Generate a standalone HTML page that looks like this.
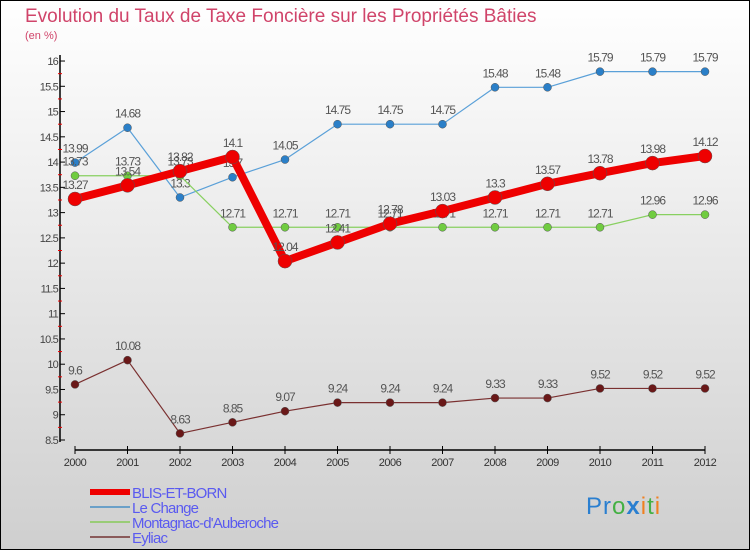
<!DOCTYPE html>
<html><head><meta charset="utf-8"><style>
body{margin:0}
#c{width:750px;height:550px;position:relative;overflow:hidden;font-family:"Liberation Sans",sans-serif}
</style></head><body>
<div id="c">
<svg id="s" width="750" height="550" xmlns="http://www.w3.org/2000/svg">
<defs><linearGradient id="bg" x1="0" y1="0" x2="0" y2="1"><stop offset="0" stop-color="#ffffff"/><stop offset="1" stop-color="#cfcfcf"/></linearGradient></defs>
<rect x="0.5" y="0.5" width="749" height="549" fill="url(#bg)" stroke="#000"/>
<text x="25" y="22" font-size="19" fill="#d0446a">Evolution du Taux de Taxe Foncière sur les Propriétés Bâties</text>
<text x="25" y="39" font-size="11" fill="#d0446a">(en %)</text>
<g id="g"></g>
<text x="586" y="514" font-size="24" letter-spacing="1"><tspan fill="#2a7fd0">Pr</tspan><tspan fill="#44b044">o</tspan><tspan fill="#2a7fd0" font-weight="bold">x</tspan><tspan fill="#f08020">i</tspan><tspan fill="#44b044">t</tspan><tspan fill="#f08020">i</tspan></text>
</svg></div>
<script>
const years=[2000,2001,2002,2003,2004,2005,2006,2007,2008,2009,2010,2011,2012];
const blis=[13.27,13.54,13.82,14.1,12.04,12.41,12.78,13.03,13.3,13.57,13.78,13.98,14.12];
const change=[13.99,14.68,13.3,13.7,14.05,14.75,14.75,14.75,15.48,15.48,15.79,15.79,15.79];
const montagnac=[13.73,13.73,13.73,12.71,12.71,12.71,12.71,12.71,12.71,12.71,12.71,12.96,12.96];
const eyliac=[9.6,10.08,8.63,8.85,9.07,9.24,9.24,9.24,9.33,9.33,9.52,9.52,9.52];
const yTicks=[8.5,9,9.5,10,10.5,11,11.5,12,12.5,13,13.5,14,14.5,15,15.5,16];
const NS='http://www.w3.org/2000/svg';
const g=document.getElementById('g');
const X=i=>75+i*52.5;
const Y=v=>440-(v-8.5)*50.53;
function el(t,a,p){const e=document.createElementNS(NS,t);for(const k in a)e.setAttribute(k,a[k]);(p||g).appendChild(e);return e;}
let ax=el('line',{x1:60,y1:55,x2:60,y2:442,stroke:'#000','stroke-width':1.5});


let xa=el('line',{x1:75,y1:450,x2:705,y2:450,stroke:'#000','stroke-width':1.5});


yTicks.forEach(v=>{
 el('line',{x1:60,y1:Y(v),x2:65,y2:Y(v),stroke:'#000'});
 if(v<16){el('line',{x1:58,y1:Y(v+0.25),x2:62,y2:Y(v+0.25),stroke:'#e00'});}
 let t=el('text',{x:58,y:Y(v)+4,'font-size':11,fill:'#444','text-anchor':'end','letter-spacing':'-0.8'});
 t.textContent=v;
 
 
});
years.forEach((y,i)=>{
 el('line',{x1:X(i),y1:446,x2:X(i),y2:454,stroke:'#000'});
 let t=el('text',{x:X(i),y:466,'font-size':11,fill:'#333','text-anchor':'middle','letter-spacing':'-0.5'});
 t.textContent=y;
 
 
});
function series(name,data,color,w,r,mk){
 const sg=el('g',{});
 
 
 let p=el('polyline',{points:data.map((v,i)=>X(i)+','+Y(v)).join(' '),fill:'none',stroke:color,'stroke-width':w,'stroke-linejoin':'round'},sg);
 
 
 data.forEach((v,i)=>{
  let c=el('circle',{cx:X(i),cy:Y(v),r:r,fill:mk,stroke:'#555','stroke-width':0.5},sg);
  
  
  let t=el('text',{x:X(i),y:Y(v)-10,'font-size':12,fill:'#555','text-anchor':'middle','letter-spacing':'-1'},sg);
  t.textContent=v;
  
  
 });
}
series('le-change',change,'#5aa0d8',1.2,4,'#2a7fc8');
series('montagnac',montagnac,'#88d060',1.2,4,'#70cc40');
series('eyliac',eyliac,'#7a3030',1.2,4,'#6a1818');
series('blis-et-born',blis,'#ee0000',8,7,'#ee0000');
const leg=[['BLIS-ET-BORN','#ee0000',6],['Le Change','#6aa0c8',2],['Montagnac-d\'Auberoche','#99cc77',2],['Eyliac','#8a5a5a',2]];
leg.forEach((l,i)=>{
 const yy=492+i*15;
 const lg=el('g',{});
 
 
 el('line',{x1:90,y1:yy,x2:130,y2:yy,stroke:l[1],'stroke-width':l[2]},lg);
 let t=el('text',{x:132,y:yy+6,'font-size':15,fill:'#5a5af0','letter-spacing':'-0.8'},lg);
 t.textContent=l[0];
});
</script>
</body></html>
